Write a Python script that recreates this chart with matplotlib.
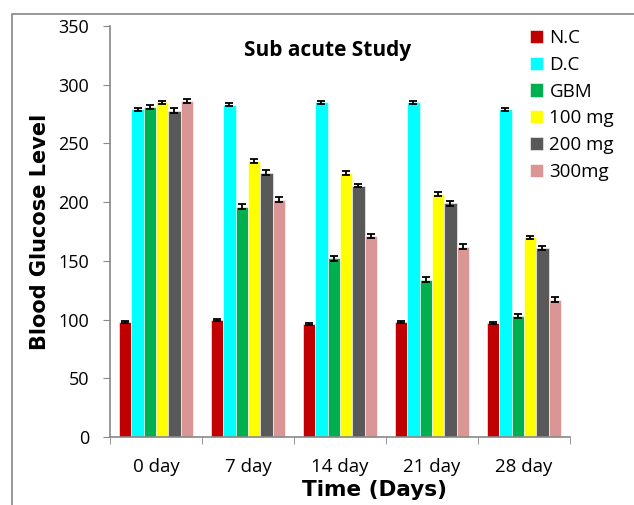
import matplotlib
matplotlib.use("Agg")
import matplotlib.pyplot as plt
import numpy as np
from matplotlib.patches import Rectangle

days = ["0 day", "7 day", "14 day", "21 day", "28 day"]
groups = ["N.C", "D.C", "GBM", "100 mg", "200 mg", "300mg"]
colors = ["#C00000", "#00FFFF", "#00B050", "#FFFF00", "#595959", "#D99694"]

nc = [98, 99.5, 96, 98, 97]
dc = [279, 283, 285, 285, 279]
gbm = [281, 196, 152, 134, 103]
mg100 = [285, 235, 225, 207, 170]
mg200 = [278, 225, 214, 199, 161]
mg300 = [286, 202, 171, 162, 117]
values = [nc, dc, gbm, mg100, mg200, mg300]

nc_err = [1, 1, 1, 1, 1]
dc_err = [1.5, 1.5, 1.5, 1.5, 1.5]
gbm_err = [2, 2, 2, 2, 2]
mg100_err = [1.5, 1.5, 1.5, 1.5, 1.5]
mg200_err = [2, 2, 1.5, 2, 1.5]
mg300_err = [1.5, 2, 1.5, 2, 2]
errors = [nc_err, dc_err, gbm_err, mg100_err, mg200_err, mg300_err]

fig = plt.figure(figsize=(6.34, 5.05), dpi=100)
ax = fig.add_axes([0.1735, 0.1347, 0.7255, 0.8138])

x = np.arange(len(days))
w = 0.134
for i, (vals, errs) in enumerate(zip(values, errors)):
    pos = x + (i - 2.5) * w
    ax.bar(pos, vals, width=w, color=colors[i], label=groups[i],
           edgecolor="white", linewidth=0.4)
    ax.errorbar(pos, vals, yerr=errs, fmt="none", ecolor="black",
                elinewidth=1.3, capsize=3, capthick=1.3)

ax.set_xlim(-0.5, len(days) - 0.5)
ax.set_ylim(0, 350)
ax.set_yticks(range(0, 351, 50))
ax.set_xticks(x)
ax.set_xticklabels(days, fontsize=13.5, family="Open Sans")
ax.set_xticks(np.arange(-0.5, len(days), 1), minor=True)
ax.tick_params(axis="x", which="major", length=0, pad=15)
ax.tick_params(axis="x", which="minor", length=5, color="#888888")
ax.tick_params(axis="y", length=5, color="#888888", labelsize=13, pad=10)
for lab in ax.get_yticklabels():
    lab.set_family("Open Sans")

for s in ["top", "right"]:
    ax.spines[s].set_visible(False)
for s in ["left", "bottom"]:
    ax.spines[s].set_color("#888888")
    ax.spines[s].set_linewidth(1.2)

ax.set_ylabel("Blood Glucose Level", fontsize=15, fontweight="bold", labelpad=6)
ax.set_xlabel("Time (Days)", fontsize=15.5, fontweight="bold")
ax.xaxis.set_label_coords(0.576, -0.105)

fig.text(0.516, 0.90, "Sub acute Study", ha="center", va="center",
         fontsize=15, fontweight="bold", family="Open Sans")

leg = ax.legend(loc="upper left", bbox_to_anchor=(0.809, 0.976),
                bbox_transform=fig.transFigure, frameon=False,
                prop={"family": "Open Sans", "size": 13.5},
                handlelength=0.7, handleheight=0.7, handletextpad=0.35,
                labelspacing=0.47)

fig.patches.append(Rectangle((12 / 634, -0.1), 1.2, 1 - 14 / 505 + 0.1,
                             transform=fig.transFigure, fill=False,
                             edgecolor="#888888", linewidth=1.2))

fig.savefig("out.png", dpi=100)
